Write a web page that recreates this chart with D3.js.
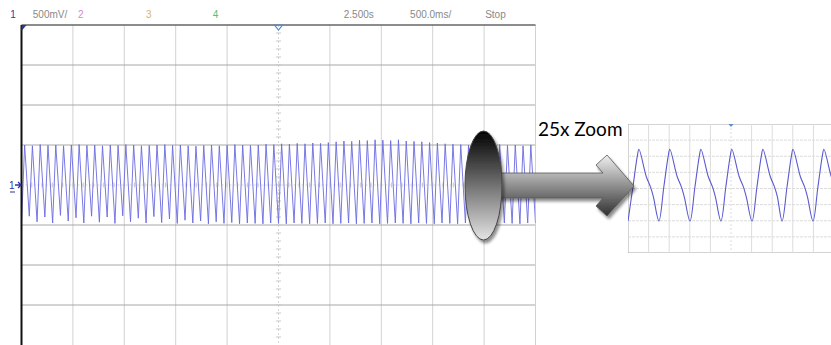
<!DOCTYPE html>
<html><head><meta charset="utf-8">
<script src="https://cdn.jsdelivr.net/npm/d3@7"></script>
<style>html,body{margin:0;padding:0;background:#fff;overflow:hidden}</style>
</head><body>
<svg id="c" width="831" height="345"></svg>
<script>
// ---------- data ----------
const headerLabels = ["1","500mV/","2","3","4","2.500s","500.0ms/","Stop"];
const headerColors = ["#3a3aa8","#888","#d48ad4","#d8b468","#4cc47a","#888","#888","#888"];
const headerPos = [-0.22,0.22,1.1,2.42,3.72,6.27,7.56,9.02]; // in divisions
const calloutLabel = "25x Zoom";
// main (aliased) trace, in divisions: one peak and one trough per cycle
const mainPeaks = [1.00,0.98,1.01,0.99,1.00,0.98,1.00,1.01,0.99,1.00,
 0.98,1.00,0.99,1.01,1.00,0.98,0.99,1.00,1.01,0.99,
 1.00,0.98,0.97,0.99,1.00,0.98,0.99,1.01,1.00,0.99,
 1.00,1.02,1.01,1.03,1.02,1.04,1.03,1.05,1.04,1.06,
 1.08,1.10,1.09,1.12,1.11,1.13,1.12,1.11,1.13,1.10,
 1.09,1.08,1.06,1.05,1.03,1.02,1.01,1.00,1.00,0.99,
 1.00,1.01,0.99,1.00,0.98,1.00];
const mainTroughs = [-0.95,-0.78,-0.92,-0.80,-0.95,-0.76,-0.90,-0.82,-0.95,-0.78,
 -0.93,-0.80,-0.96,-0.77,-0.92,-0.83,-0.95,-0.79,-0.94,-0.85,
 -0.96,-0.88,-0.95,-0.90,-0.97,-0.92,-0.96,-0.94,-0.97,-0.95,
 -0.96,-0.97,-0.95,-0.96,-0.97,-0.95,-0.96,-0.97,-0.96,-0.95,
 -0.97,-0.96,-0.95,-0.97,-0.96,-0.95,-0.97,-0.96,-0.95,-0.96,
 -0.97,-0.95,-0.96,-0.97,-0.95,-0.96,-0.97,-0.95,-0.96,-0.95,
 -0.97,-0.96,-0.95,-0.96,-0.97,-0.95];
// zoomed trace (time div, volts div)
const zoomT = [0,0.24,0.45,0.53,0.89,1.10,1.23,
 1.50,1.74,1.95,2.03,2.39,2.60,2.73,
 3.01,3.25,3.46,3.54,3.90,4.11,4.24,
 4.51,4.75,4.96,5.04,5.40,5.61,5.74,
 6.02,6.26,6.47,6.55,6.91,7.12,7.25,
 7.48,7.72,7.93,8.01,8.37,8.58,8.71,
 8.98,9.22,9.43,9.51,9.87,10.08,10.21,10.50];
const zoomV = [-2.02,0.11,1.99,2.43,0.73,0.07,-0.51,
 -2.02,0.11,1.99,2.43,0.73,0.07,-0.51,
 -2.02,0.11,1.99,2.43,0.73,0.07,-0.51,
 -2.02,0.11,1.99,2.43,0.73,0.07,-0.51,
 -2.02,0.11,1.99,2.43,0.73,0.07,-0.51,
 -2.02,0.11,1.99,2.43,0.73,0.07,-0.51,
 -2.02,0.11,1.99,2.43,0.73,0.07,-0.51,-2.02];

// ---------- drawing ----------
const svg = d3.select("#c");
svg.append("rect").attr("width",831).attr("height",345).attr("fill","#fff");
const defs = svg.append("defs");

const x = d3.scaleLinear().domain([0,10]).range([21.5,535.5]);
const y = d3.scaleLinear().domain([-4,4]).range([345,25]);
const zx = d3.scaleLinear().domain([0,10]).range([628,834]);
const zy = d3.scaleLinear().domain([-4,4]).range([253,124]);

defs.append("clipPath").attr("id","mainClip").append("rect")
  .attr("x",x(0)).attr("y",y(4)).attr("width",x(10)-x(0)).attr("height",y(-4)-y(4));
defs.append("clipPath").attr("id","zoomClip").append("rect")
  .attr("x",zx(0)).attr("y",zy(4)).attr("width",831-zx(0)).attr("height",zy(-4)-zy(4));

// main grid
const g = svg.append("g");
const divs = d3.range(1,10);
g.selectAll(".vg").data(divs.filter(d=>d!==5)).join("line")
  .attr("x1",d=>x(d)).attr("x2",d=>x(d)).attr("y1",y(4)).attr("y2",y(-4))
  .attr("stroke","#d2d2d2").attr("stroke-width",1);
g.selectAll(".hg").data(d3.range(-3,4).filter(d=>d!==0)).join("line")
  .attr("x1",x(0)).attr("x2",x(10)).attr("y1",d=>y(d)).attr("y2",d=>y(d))
  .attr("stroke","#a8a8a8").attr("stroke-width",1);
g.append("line").attr("x1",x(10)).attr("x2",x(10)).attr("y1",y(4)).attr("y2",y(-4))
  .attr("stroke","#d2d2d2");
// center axes with minor ticks
g.append("line").attr("x1",x(5)).attr("x2",x(5)).attr("y1",y(4)).attr("y2",y(-4))
  .attr("stroke","#d8d8d8").attr("stroke-dasharray","2,2");
g.append("line").attr("x1",x(0)).attr("x2",x(10)).attr("y1",y(0)).attr("y2",y(0))
  .attr("stroke","#d8d8d8").attr("stroke-dasharray","2,2");
const minorV = d3.range(-20,21).map(d=>d/5).filter(d=>Math.abs(d)<4);
g.selectAll(".mt").data(minorV).join("line")
  .attr("x1",x(5)-2.5).attr("x2",x(5)+2.5).attr("y1",d=>y(d)).attr("y2",d=>y(d))
  .attr("stroke","#c8c8c8");
const minorH = d3.range(1,50).map(d=>d/5);
g.selectAll(".mh").data(minorH).join("line")
  .attr("x1",d=>x(d)).attr("x2",d=>x(d)).attr("y1",y(0)-2.5).attr("y2",y(0)+2.5)
  .attr("stroke","#c8c8c8");

// main trace
const nC = mainPeaks.length;
const tc = d3.scaleLinear().domain([0,nC]).range([0,10]);
const pts = [];
mainPeaks.forEach((p,i)=>{
  pts.push([tc(i), mainTroughs[i]]);
  pts.push([tc(i+0.4), p]);
});
pts.push([10, mainTroughs[0]]);
svg.append("path").attr("clip-path","url(#mainClip)")
  .attr("d", d3.line().x(d=>x(d[0])).y(d=>y(d[1]))(pts))
  .attr("fill","none").attr("stroke","#6a6ae0").attr("stroke-width",1).attr("stroke-opacity",0.9);

// borders
svg.append("line").attr("x1",x(0)).attr("x2",x(10)).attr("y1",y(4)).attr("y2",y(4))
  .attr("stroke","#666").attr("stroke-width",1.5);
svg.append("line").attr("x1",x(0)).attr("x2",x(0)).attr("y1",y(4)).attr("y2",345)
  .attr("stroke","#111").attr("stroke-width",2);

// header
svg.selectAll(".hd").data(headerLabels).join("text")
  .attr("x",(d,i)=>x(headerPos[i])).attr("y",18)
  .attr("fill",(d,i)=>headerColors[i])
  .attr("font-family","Liberation Sans Narrow, Liberation Sans, sans-serif")
  .attr("font-size",10).text(d=>d);

// markers
svg.append("path").attr("d",`M${x(0)},${y(4)} l5,0 l-5,6 z`).attr("fill","#2a3a80");
svg.append("path").attr("d",`M${x(5)-4},${y(4)} l8,0 l-4,5 z`).attr("fill","none")
  .attr("stroke","#5a8ad0").attr("stroke-width",1.2);
const m1 = svg.append("g").attr("transform",`translate(9,${y(0)})`);
m1.append("text").attr("x",0).attr("y",4).attr("font-size",10)
  .attr("font-family","Liberation Sans, sans-serif").attr("fill","#3030a0").text("1");
m1.append("path").attr("d","M6,0 L12,0 M9,-3 L12,0 L9,3").attr("stroke","#3030a0").attr("fill","none").attr("stroke-width",1.3);
m1.append("line").attr("x1",1).attr("x2",6).attr("y1",7).attr("y2",7).attr("stroke","#3030a0");

// zoom panel
const zg = svg.append("g").attr("clip-path","url(#zoomClip)");
zg.append("rect").attr("x",zx(0)).attr("y",zy(4)).attr("width",zx(10)-zx(0)).attr("height",zy(-4)-zy(4))
  .attr("fill","#fff").attr("stroke","#b8b8b8").attr("stroke-width",1.2);
zg.selectAll(".zv").data(divs).join("line")
  .attr("x1",d=>zx(d)).attr("x2",d=>zx(d)).attr("y1",zy(4)).attr("y2",zy(-4))
  .attr("stroke","#dcdcdc").attr("stroke-dasharray",d=>d===5?"2,2":null);
zg.selectAll(".zh").data(d3.range(-3,4)).join("line")
  .attr("x1",zx(0)).attr("x2",zx(10)).attr("y1",d=>zy(d)).attr("y2",d=>zy(d))
  .attr("stroke","#dcdcdc").attr("stroke-dasharray","3,1");
zg.append("path")
  .attr("d", d3.line().curve(d3.curveCatmullRom.alpha(0.5)).x((d,i)=>zx(zoomT[i])).y((d,i)=>zy(zoomV[i]))(zoomT))
  .attr("fill","none").attr("stroke","#5a5ad0").attr("stroke-width",1.1);
svg.append("path").attr("d",`M${zx(5)-2.5},${zy(4)} l5,0 l-2.5,3 z`).attr("fill","#5a8ad0");

// gradients & shadow
const gArrow = defs.append("linearGradient").attr("id","gArrow").attr("x1",0).attr("x2",0).attr("y1",0).attr("y2",1);
gArrow.append("stop").attr("offset","0%").attr("stop-color","#f0f0f0");
gArrow.append("stop").attr("offset","100%").attr("stop-color","#303030");
const gEll = defs.append("linearGradient").attr("id","gEll").attr("x1",0).attr("x2",0).attr("y1",0).attr("y2",1);
gEll.append("stop").attr("offset","0%").attr("stop-color","#000");
gEll.append("stop").attr("offset","100%").attr("stop-color","#e4e4e4");
const sh = defs.append("filter").attr("id","sh").attr("x","-20%").attr("y","-20%").attr("width","150%").attr("height","150%");
sh.append("feGaussianBlur").attr("in","SourceAlpha").attr("stdDeviation",1.5);
sh.append("feOffset").attr("dx",2).attr("dy",3).attr("result","ob");
sh.append("feComponentTransfer").append("feFuncA").attr("type","linear").attr("slope",0.45);
const mg = sh.append("feMerge"); mg.append("feMergeNode"); mg.append("feMergeNode").attr("in","SourceGraphic");

// arrow
svg.append("path")
  .attr("d","M496,173 L603,173 L596,165 L607,155 L634,186 L607,216 L596,206 L603,198 L496,198 Z")
  .attr("fill","url(#gArrow)").attr("stroke","#555").attr("stroke-width",0.8).attr("filter","url(#sh)");
// ellipse
svg.append("ellipse").attr("cx",483.5).attr("cy",185.5).attr("rx",18.5).attr("ry",54.5)
  .attr("fill","url(#gEll)").attr("stroke","#444").attr("stroke-width",1).attr("filter","url(#sh)");

// callout label
svg.append("text").attr("x",538).attr("y",136).attr("font-family","Lato, Carlito, sans-serif")
  .attr("font-size",19).attr("fill","#000").text(calloutLabel);
</script>
</body></html>
